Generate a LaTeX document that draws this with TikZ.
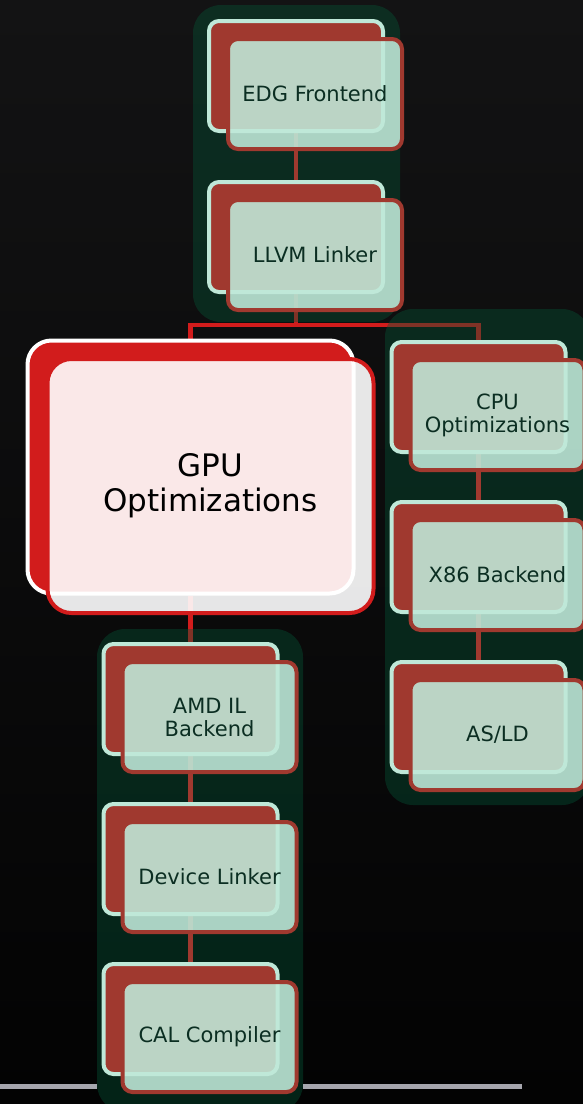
\documentclass[tikz,border=0pt]{standalone}
\usepackage{fontspec}
\setmainfont{DejaVu Sans}
\usetikzlibrary{calc}
\definecolor{brick}{HTML}{A0392F}
\definecolor{mint}{HTML}{BFE8D8}
\definecolor{gpured}{HTML}{D21C1C}
\definecolor{grpgreen}{HTML}{045436}
\definecolor{txtgreen}{HTML}{0B2E22}
\definecolor{bgtop}{HTML}{131314}
\definecolor{bgbot}{HTML}{030303}
\definecolor{rulegray}{HTML}{A6A6AE}
\pgfdeclarelayer{bglayer}
\pgfdeclarelayer{lines}
\pgfdeclarelayer{groups}
\pgfdeclarelayer{inner}
\pgfsetlayers{bglayer,lines,groups,inner,main}
\tikzset{
  backbox/.style={draw=mint, fill=brick, line width=4pt, rounded corners=10pt,
    minimum width=174pt, minimum height=110pt, inner sep=0pt},
  frontbox/.style={draw=brick, fill=mint, fill opacity=0.89, text opacity=1,
    line width=4pt, rounded corners=10pt, minimum width=174pt, minimum height=110pt,
    inner sep=0pt, text=txtgreen, font=\fontsize{21}{23}\selectfont, align=center},
  gpuback/.style={draw=white, fill=gpured, line width=4pt, rounded corners=24pt,
    minimum width=326pt, minimum height=253pt, inner sep=0pt},
  gpufront/.style={draw=gpured, fill=white, fill opacity=0.9, text opacity=1,
    line width=4pt, rounded corners=24pt, minimum width=326pt, minimum height=254pt,
    inner sep=0pt, text=black, font=\fontsize{31}{35}\selectfont, align=center},
  groupbg/.style={fill=grpgreen, fill opacity=0.4, draw=none, rounded corners=28pt,
    inner sep=0pt},
  gpuline/.style={draw=gpured, line width=4.5pt},
  innerline/.style={draw=brick, line width=4.5pt},
}
\begin{document}
\begin{tikzpicture}[x=1pt,y=-1pt]
\useasboundingbox (0,0) rectangle (583,1104);
\clip (0,0) rectangle (583,1104);

% group backgrounds
\begin{pgfonlayer}{groups}
  \node[groupbg, minimum width=207pt, minimum height=317pt] (g1) at (296.5,163.5) {};
  \node[groupbg, minimum width=205pt, minimum height=496pt] (g2) at (487.5,557) {};
  \node[groupbg, minimum width=206pt, minimum height=483pt] (g3) at (200,870.5) {};
\end{pgfonlayer}

\begin{pgfonlayer}{bglayer}
  \shade[top color=bgtop, bottom color=bgbot] (0,0) rectangle (583,1104);
  \coordinate (rl) at (0,1086);
  \coordinate (rr) at (522,1086);
  \draw[rulegray, line width=5pt] (rl) -- (g3.west |- rl);
  \draw[rulegray, line width=5pt] (g3.east |- rr) -- (rr);
\end{pgfonlayer}

% left-top column
\node[backbox] (edgb) at (296,76) {};
\node[frontbox] (edgf) at (315,94) {EDG Frontend};
\node[backbox] (llvmb) at (296,237) {};
\node[frontbox] (llvmf) at (315,255) {LLVM Linker};

% GPU
\node[gpuback] (gpub) at (190.5,467) {};
\node[gpufront] (gpuf) at (210.5,486) {GPU\\Optimizations};

% right column
\node[backbox] (cpub) at (478.5,397) {};
\node[frontbox] (cpuf) at (497.5,415) {CPU\\Optimizations};
\node[backbox] (x86b) at (478.5,557) {};
\node[frontbox] (x86f) at (497.5,575) {X86 Backend};
\node[backbox] (asldb) at (478.5,717) {};
\node[frontbox] (asldf) at (497.5,735) {AS/LD};

% bottom column
\node[backbox] (amdb) at (190.5,699) {};
\node[frontbox] (amdf) at (209.5,717) {AMD IL\\Backend};
\node[backbox] (devb) at (190.5,859) {};
\node[frontbox] (devf) at (209.5,877) {Device Linker};
\node[backbox] (calb) at (190.5,1019) {};
\node[frontbox] (calf) at (209.5,1037) {CAL Compiler};

\begin{pgfonlayer}{lines}
  \coordinate (bar) at (0,325);
  \draw[gpuline] (llvmb.south) -- (llvmb.south |- bar) -| (gpub.north);
  \draw[gpuline] (llvmb.south |- bar) -| (cpub.north);
  \draw[gpuline] (gpub.south) -- (amdb.north);
\end{pgfonlayer}
\begin{pgfonlayer}{inner}
  \draw[innerline] (edgb.south) -- (llvmb.north);
  \draw[innerline] (cpub.south) -- (x86b.north);
  \draw[innerline] (x86b.south) -- (asldb.north);
  \draw[innerline] (amdb.south) -- (devb.north);
  \draw[innerline] (devb.south) -- (calb.north);
\end{pgfonlayer}
\end{tikzpicture}
\end{document}
